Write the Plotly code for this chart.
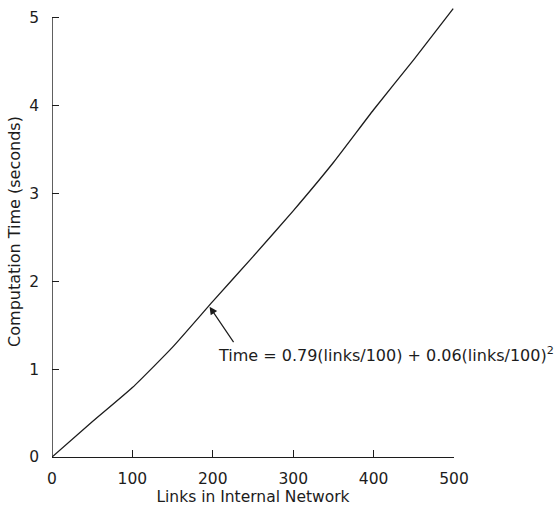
import plotly.graph_objects as go

# values
links = [0, 50, 100, 150, 200, 250, 300, 350, 400, 450, 499]
time_s = [0, 0.40, 0.79, 1.25, 1.77, 2.28, 2.80, 3.35, 3.95, 4.52, 5.10]

x_ticks = [0, 100, 200, 300, 400, 500]
y_ticks = [0, 1, 2, 3, 4, 5]

formula = "Time = 0.79(links/100) + 0.06(links/100)<sup>2</sup>"
x_title = "Links in Internal Network"
y_title = "Computation Time (seconds)"

ink = "#1c1c1c"
font_family = "DejaVu Sans"

fig = go.Figure()
fig.add_trace(go.Scatter(x=links, y=time_s, mode="lines",
                         line=dict(color=ink, width=1.3, shape="spline", smoothing=0.5),
                         showlegend=False, hoverinfo="skip"))

fig.update_layout(
    width=558, height=512,
    margin=dict(l=52, r=104, t=6, b=55),
    paper_bgcolor="white", plot_bgcolor="white",
    font=dict(family=font_family, color=ink, size=15),
    xaxis=dict(range=[0, 500], tickvals=x_ticks, ticks="inside", ticklen=7,
               tickcolor=ink, tickwidth=1.2, showline=True, linecolor=ink, linewidth=1.4,
               showgrid=False, zeroline=False, ticklabelstandoff=7, automargin=False,
               tickfont=dict(size=15.5, family=font_family, color=ink),
               title=dict(text=x_title, font=dict(size=15.5, family=font_family, color=ink),
                          standoff=3)),
    yaxis=dict(range=[0, 5.13], tickvals=y_ticks, ticks="inside", ticklen=7,
               tickcolor=ink, tickwidth=1.2, showline=False,
               showgrid=False, zeroline=False, ticklabelstandoff=12, automargin=False,
               tickfont=dict(size=15.5, family=font_family, color=ink),
               title=dict(text=y_title, font=dict(size=16, family=font_family, color=ink),
                          standoff=4)),
)

# y axis line ending at the top tick (5)
fig.add_shape(type="line", xref="x", yref="y", x0=0, x1=0, y0=0, y1=y_ticks[-1],
              line=dict(color=ink, width=1.4))

# arrow pointing at the curve
fig.add_annotation(x=196, y=1.71, xref="x", yref="y", text="", showarrow=True,
                   ax=25, ay=37, arrowhead=2, arrowsize=1.3, arrowwidth=1.2,
                   arrowcolor=ink, standoff=0)
# formula text
fig.add_annotation(x=204, y=1.17, xref="x", yref="y", text=formula, showarrow=False,
                   xanchor="left", yanchor="middle",
                   font=dict(size=16, family=font_family, color=ink))

fig.write_html("out.html", config={"displayModeBar": False},
               post_script="document.body.style.margin='0';document.body.style.overflow='hidden';")
